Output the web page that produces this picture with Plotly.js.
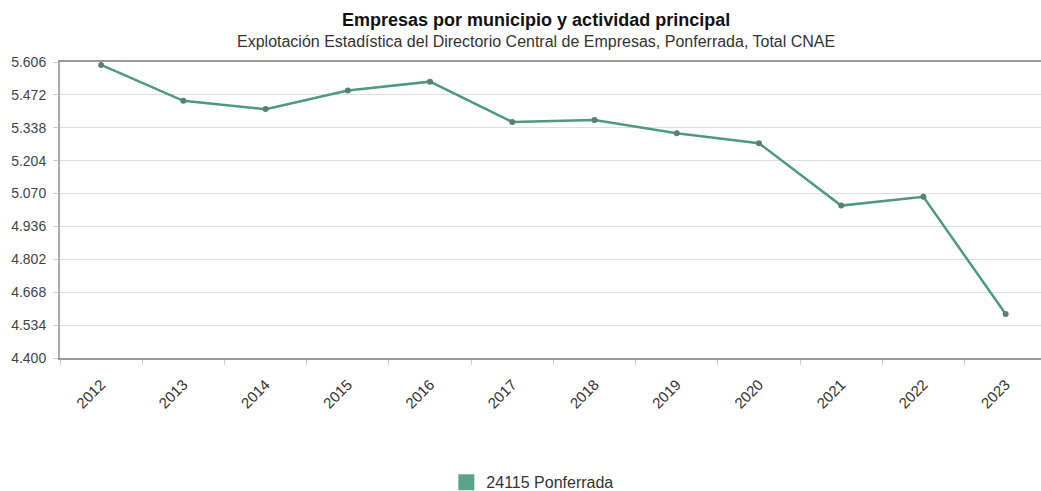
<!DOCTYPE html>
<html>
<head>
<meta charset="utf-8">
<script src="https://cdn.plot.ly/plotly-3.0.1.min.js"></script>
<style>
html,body{margin:0;padding:0;background:#fff;overflow:hidden;}
#chart{width:1041px;height:491px;}
</style>
</head>
<body>
<div id="chart"></div>
<script>
const years = ["2012","2013","2014","2015","2016","2017","2018","2019","2020","2021","2022","2023"];
const empresas = [5594, 5448, 5414, 5490, 5526, 5362, 5370, 5316, 5275, 5021, 5057, 4579];
const seriesName = "24115 Ponferrada";
const chartTitle = "Empresas por municipio y actividad principal";
const chartSubtitle = "Explotación Estadística del Directorio Central de Empresas, Ponferrada, Total CNAE";
const yMin = 4400, yMax = 5606, yStep = 134;

const lineTrace = {
  type: "scatter",
  mode: "lines+markers",
  x: years,
  y: empresas,
  name: seriesName,
  showlegend: false,
  line: {color: "#4f9a7e", width: 2.5},
  marker: {color: "#5b7f72", size: 6}
};
// legend-only entry (square swatch), draws no mark in the plot
const legendTrace = {
  type: "scatter",
  mode: "markers",
  x: [years[0]],
  y: [null],
  name: seriesName,
  showlegend: true,
  marker: {color: "#5aa38a", symbol: "square", size: 17, line: {width: 0}}
};

const layout = {
  width: 1041,
  height: 491,
  margin: {l: 60, r: 0, t: 62, b: 133, autoexpand: false},
  paper_bgcolor: "#ffffff",
  plot_bgcolor: "#ffffff",
  separators: ",.",
  font: {family: "Liberation Sans, Arial, sans-serif", size: 12, color: "#444"},
  title: {
    text: "<b>" + chartTitle + "</b>",
    font: {size: 18, color: "#111"},
    x: 0.515, xanchor: "center",
    y: 0.959, yanchor: "middle"
  },
  annotations: [{
    text: chartSubtitle,
    xref: "paper", yref: "paper",
    x: 0.485, xanchor: "center",
    y: 1.068, yanchor: "middle",
    showarrow: false,
    font: {size: 16, color: "#333"}
  }],
  xaxis: {
    type: "category",
    range: [-0.5, 11.43],
    tickangle: -45,
    ticks: "outside",
    tickson: "boundaries",
    ticklen: 5,
    tickcolor: "#ccc",
    ticklabelstandoff: 10,
    showline: true,
    mirror: true,
    linecolor: "#999",
    linewidth: 2,
    showgrid: false,
    automargin: false,
    tickfont: {size: 15, color: "#333"},
    fixedrange: true
  },
  yaxis: {
    range: [yMin, yMax],
    tick0: yMin,
    dtick: yStep,
    tickformat: ",d",
    ticks: "outside",
    ticklen: 5,
    tickcolor: "#ccc",
    ticklabelstandoff: 4,
    showline: true,
    linecolor: "#aaa",
    linewidth: 2,
    gridcolor: "#dedede",
    gridwidth: 1,
    zeroline: false,
    automargin: false,
    tickfont: {size: 14, color: "#444"},
    fixedrange: true
  },
  showlegend: true,
  legend: {
    orientation: "h",
    itemsizing: "trace",
    itemwidth: 30,
    x: 0.482, xanchor: "center",
    y: -0.42, yanchor: "middle",
    font: {size: 16, color: "#333"},
    bgcolor: "rgba(0,0,0,0)"
  }
};

Plotly.newPlot("chart", [lineTrace, legendTrace], layout, {displayModeBar: false, staticPlot: true});
</script>
</body>
</html>
